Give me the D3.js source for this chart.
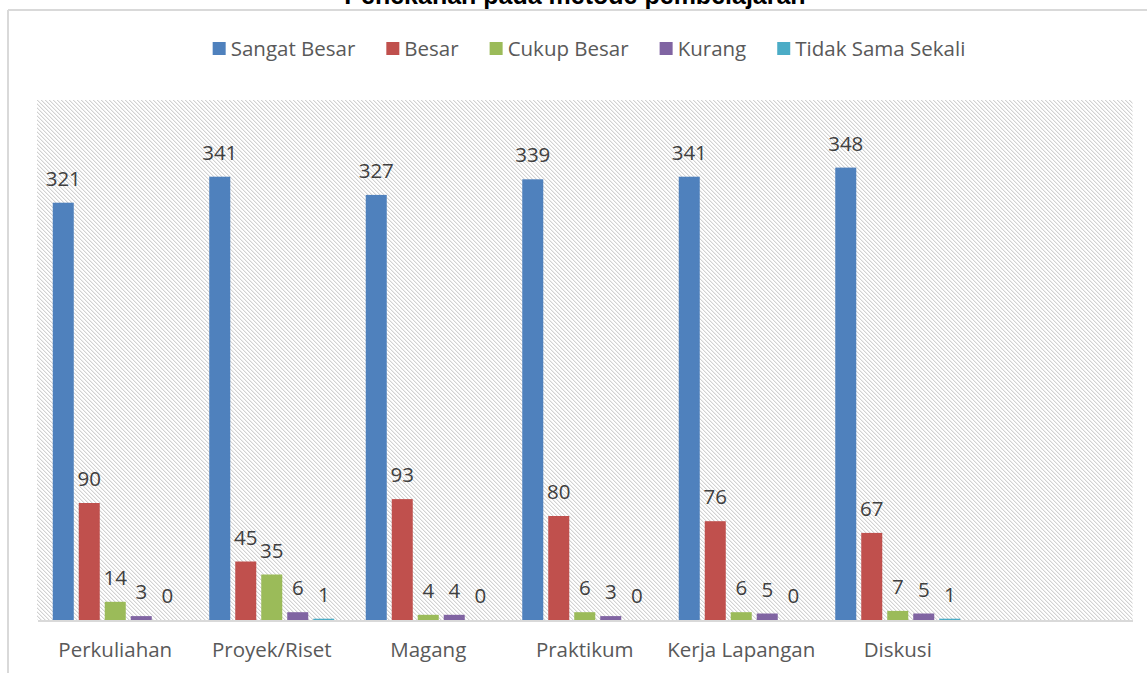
<!DOCTYPE html>
<meta charset="utf-8">
<style>
body {
  margin: 0;
  background-color: #ffffff;
  overflow: hidden;
}
text {
  font-family: "Open Sans", sans-serif;
}
.axis path,
.axis line {
  fill: none;
  stroke: #d9d9d9;
  stroke-width: 2px;
  shape-rendering: crispEdges;
}
.axis text {
  fill: #595959;
  font-size: 20.5px;
}
.val {
  fill: #404040;
  font-size: 20.5px;
}
</style>
<svg width="1147" height="673"></svg>
<script src="https://d3js.org/d3.v7.min.js"></script>
<script>
// data
var categories = ["Perkuliahan", "Proyek/Riset", "Magang", "Praktikum", "Kerja Lapangan", "Diskusi"];
var seriesNames = ["Sangat Besar", "Besar", "Cukup Besar", "Kurang", "Tidak Sama Sekali"];
var sangatBesar = [321, 341, 327, 339, 341, 348];
var besar = [90, 45, 93, 80, 76, 67];
var cukupBesar = [14, 35, 4, 6, 6, 7];
var kurang = [3, 6, 4, 3, 5, 5];
var tidakSama = [0, 1, 0, 0, 0, 1];
var colors = ["#4f81bd", "#c0504d", "#9bbb59", "#8064a2", "#4bacc6"];
var yTicks = [0, 400];

var seriesValues = [sangatBesar, besar, cukupBesar, kurang, tidakSama];

var svg = d3.select("svg"),
    margin = {top: 100, right: 14.5, bottom: 53, left: 37},
    width = +svg.attr("width") - margin.left - margin.right,
    height = +svg.attr("height") - margin.top - margin.bottom;

// frame lines of the chart area
svg.append("line").attr("x1", 8).attr("x2", 1147).attr("y1", 10).attr("y2", 10)
  .attr("stroke", "#d9d9d9").attr("stroke-width", 2);
svg.append("line").attr("x1", 8).attr("x2", 8).attr("y1", 10).attr("y2", 673)
  .attr("stroke", "#d9d9d9").attr("stroke-width", 2);

// title, cut off at the top like in the original
svg.append("text")
  .attr("x", 575).attr("y", 4)
  .attr("text-anchor", "middle")
  .style("font-family", "'Liberation Sans', Arial, sans-serif")
  .style("font-weight", "bold")
  .style("font-size", "25px")
  .attr("fill", "#000")
  .text("Penekanan pada metode pembelajaran");

// hatch pattern
var defs = svg.append("defs");
var pat = defs.append("pattern")
  .attr("id", "hatch")
  .attr("patternUnits", "userSpaceOnUse")
  .attr("width", 4).attr("height", 4);
pat.append("rect").attr("width", 4).attr("height", 4).attr("fill", "#ffffff");
[0, 1, 2, 3].forEach(function(i) {
  pat.append("rect").attr("x", i).attr("y", i).attr("width", 1).attr("height", 1).attr("fill", "#d2d2d2");
  pat.append("rect").attr("x", (i + 1) % 4).attr("y", i).attr("width", 1).attr("height", 1).attr("fill", "#eeeeee");
});

var x0 = d3.scaleBand()
  .domain(categories.concat([""]))
  .range([0, width])
  .paddingInner(0).paddingOuter(0);

var x1 = d3.scaleBand()
  .domain(seriesNames)
  .range([0, x0.bandwidth()])
  .paddingInner(0.192)
  .paddingOuter(0.606);

var y = d3.scaleLinear().domain([yTicks[0], yTicks[1]]).range([height, 0]);

var g = svg.append("g")
  .attr("transform", "translate(" + margin.left + "," + margin.top + ")");

g.append("rect")
  .attr("x", 0).attr("y", 0)
  .attr("width", width).attr("height", height)
  .attr("fill", "url(#hatch)");

var groups = g.selectAll(".grp")
  .data(categories)
  .enter().append("g")
  .attr("class", "grp")
  .attr("transform", function(d) { return "translate(" + x0(d) + ",0)"; });

groups.selectAll("rect")
  .data(function(d, i) { return seriesNames.map(function(s, j) { return {s: s, j: j, v: seriesValues[j][i]}; }); })
  .enter().append("rect")
  .attr("x", function(d) { return x1(d.s); })
  .attr("width", x1.bandwidth())
  .attr("y", function(d) { return y(d.v); })
  .attr("height", function(d) { return height - y(d.v); })
  .attr("fill", function(d) { return colors[d.j]; });

groups.selectAll(".val")
  .data(function(d, i) { return seriesNames.map(function(s, j) { return {s: s, j: j, v: seriesValues[j][i]}; }); })
  .enter().append("text")
  .attr("class", "val")
  .attr("text-anchor", "middle")
  .attr("x", function(d) { return x1(d.s) + x1.bandwidth() / 2; })
  .attr("y", function(d) { return y(d.v) - 17; })
  .text(function(d) { return d.v; });

g.append("g")
  .attr("class", "x axis")
  .attr("transform", "translate(0," + height + ")")
  .call(d3.axisBottom(x0).tickSize(0).tickSizeOuter(0).tickPadding(22))
  .selectAll("text").attr("dy", "0.71em");

// legend
var legend = svg.append("g").attr("class", "legend");
var items = legend.selectAll("g")
  .data(seriesNames)
  .enter().append("g");
items.append("rect")
  .attr("width", 13).attr("height", 13)
  .attr("y", 42)
  .attr("fill", function(d, i) { return colors[i]; });
items.append("text")
  .attr("x", 18).attr("y", 56)
  .attr("fill", "#595959")
  .style("font-size", "20.5px")
  .text(function(d) { return d; });

var pos = 0, gap = 31, starts = [];
items.each(function() {
  starts.push(pos);
  pos += 18 + d3.select(this).select("text").node().getComputedTextLength() + gap;
});
var total = pos - gap;
var left = 589 - total / 2;
items.attr("transform", function(d, i) { return "translate(" + (left + starts[i]) + ",0)"; });
</script>
